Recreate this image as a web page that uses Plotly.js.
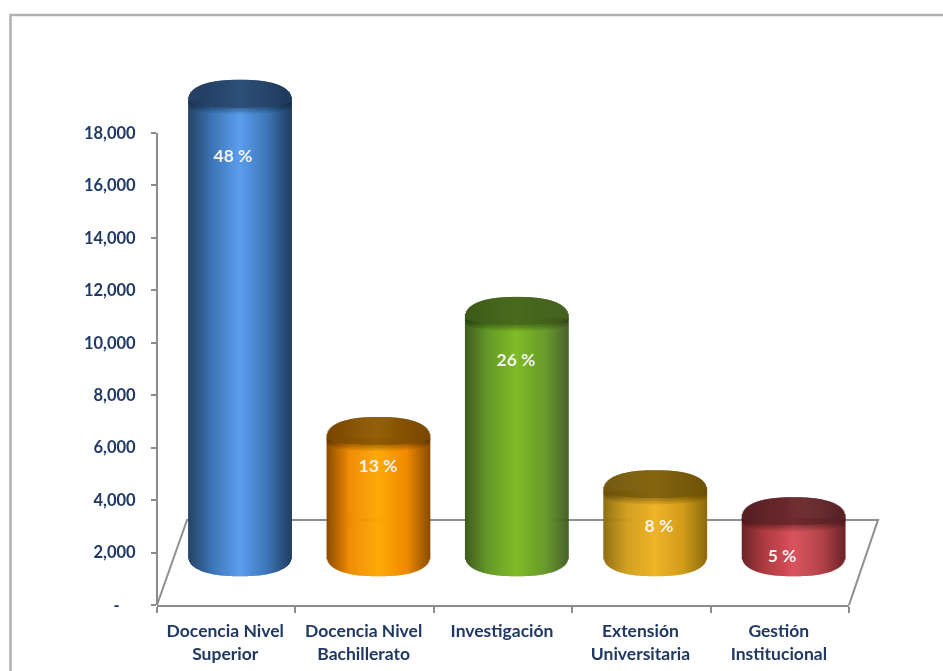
<!DOCTYPE html>
<html><head><meta charset="utf-8">
<script src="https://cdn.plot.ly/plotly-3.0.1.min.js"></script>
<style>html,body{margin:0;padding:0;background:#fff;overflow:hidden}#c{width:943px;height:671px;filter:blur(0.5px)}</style>
</head><body><div id="c"></div>
<script>
const categories = ["Docencia Nivel<br>Superior","Docencia Nivel<br>Bachillerato","Investigación","Extensión<br>Universitaria","Gestión<br>Institucional"];
const categoryPositions = [-0.007, 0.993, 1.993, 2.993, 3.993];
const values = [17600, 4740, 9320, 2710, 1680];
const percentLabels = ["48 %","13 %","26 %","8 %","5 %"];
const labelX = [0.049, 1.097, 2.094, 3.127, 4.016];
const labelY = [17060, 5230, 9275, 2940, 1795];
const colorCenter = ["#5c9eee","#ffa600","#80bc28","#f0b428","#d9505a"];
const colorMid = ["#3c74b4","#f08a00","#669a28","#d09c1a","#b03c42"];
const colorEdge = ["#1f3c60","#8c4e00","#3f5c20","#8c6a0c","#6c2428"];
const capEdge = ["#1e3a5c","#7a4800","#3c5a18","#6e5208","#562024"];
const capCenter = ["#2e5078","#8f5a00","#4a6c1e","#856610","#6e2a2e"];
const yTicks = [0,2000,4000,6000,8000,10000,12000,14000,16000,18000];
const yTickText = ["-\u00a0\u00a0\u00a0\u00a0","2,000","4,000","6,000","8,000","10,000","12,000","14,000","16,000","18,000"];
const xBoundaries = [-0.5,0.5,1.5,2.5,3.5,4.5];
const floorPaperX = [0, 0.0434, 1.0419, 1];
const floorY = [0, 3244, 3244, 0];
const yAxisEnds = [0, 18000];

const depthX = 0.1, depthY = 1630, sideBase = 1897, halfW = 0.373;
const rimUp = 800, rimDown = 260, N = 104, shadeBands = 4, shadeStep = 60;

function rgb(h){return [1,3,5].map(i=>parseInt(h.substr(i,2),16));}
function mix(a,b,f){const A=rgb(a),B=rgb(b);return 'rgb('+A.map((v,i)=>Math.round(v+(B[i]-v)*f)).join(',')+')';}
function sideColor(i,t){const u=Math.abs(t);
  if(u<0.55) return mix(colorCenter[i],colorMid[i],u/0.55);
  return mix(colorMid[i],colorEdge[i],(u-0.55)/0.45);}
function round(t){return Math.pow(1-Math.pow(Math.abs(t),2.4),1/2.4);}
function ellipse(t){return Math.sqrt(1-t*t);}

const traces=[];
values.forEach((v,i)=>{
  const cx=i+depthX, top=v+depthY;
  const xs=[],sB=[],sH=[],sC=[],cB=[],cH=[],cC=[],ls=[];
  for(let k=0;k<N;k++){
    const t=-1+(k+0.5)*2/N, r=round(t), e=ellipse(t);
    xs.push(cx+t*halfW); ls.push(e);
    const b=sideBase-rimUp*r;
    sB.push(b); sH.push(top-b); sC.push(sideColor(i,t));
    cB.push(top-rimDown*e); cH.push(rimUp*r+rimDown*e);
    cC.push(mix(capCenter[i],capEdge[i],Math.abs(t)));
  }
  const w=2*halfW/N*1.6;
  traces.push({type:'bar',x:xs,y:sH,base:sB,width:w,marker:{color:sC,line:{width:0}},cliponaxis:false,hoverinfo:'skip',showlegend:false});
  for(let s=shadeBands;s>=1;s--){
    const bB=ls.map(e=>top-rimDown*e-s*shadeStep);
    const bH=bB.map(b=>top-b);
    traces.push({type:'bar',x:xs,y:bH,base:bB,width:w,marker:{color:'rgba(0,0,0,0.05)',line:{width:0}},cliponaxis:false,hoverinfo:'skip',showlegend:false});
  }
  traces.push({type:'bar',x:xs,y:cH,base:cB,width:w,marker:{color:cC,line:{width:0}},cliponaxis:false,hoverinfo:'skip',showlegend:false});
});
traces.push({type:'scatter',mode:'text',x:labelX,y:labelY,text:percentLabels,textposition:'middle center',
  textfont:{family:'Lato',size:17.5,color:'#f4f4f4',weight:700},cliponaxis:false,hoverinfo:'skip',showlegend:false});

const W=943,H=671,L=157,R=849,T=60,B=605,pxPerUnit=472/18000;
const yTop=(B-T)/pxPerUnit;
const px=p=>(p-L)/(R-L), py=p=>(B-p)/(B-T);
const layout={
  width:W,height:H,margin:{l:L,r:W-R,t:T,b:H-B,pad:0},
  paper_bgcolor:'#fff',plot_bgcolor:'rgba(0,0,0,0)',barmode:'overlay',showlegend:false,
  xaxis:{type:'linear',range:[-0.5,4.5],tickmode:'array',tickvals:categoryPositions,ticktext:categories,ticks:'',
    showgrid:false,zeroline:false,showline:true,linecolor:'#8c8c8c',linewidth:2,
    tickfont:{family:'Lato',size:17.5,color:'#1f3864',weight:700},ticklabelstandoff:9,
    minor:{tickmode:'array',tickvals:xBoundaries,ticks:'outside',ticklen:6,tickwidth:2,tickcolor:'#8c8c8c',showgrid:false}},
  yaxis:{range:[0,yTop],tickmode:'array',tickvals:yTicks,ticktext:yTickText,ticks:'outside',ticklen:5,tickwidth:2,tickcolor:'#8c8c8c',
    showgrid:false,zeroline:false,showline:false,
    tickfont:{family:'Lato',size:16.5,color:'#1f3864',weight:700},ticklabelstandoff:12},
  shapes:[
    {type:'path',layer:'below',xref:'paper',yref:'y',line:{color:'#8f8f8f',width:2},fillcolor:'rgba(0,0,0,0)',
     path:'M'+floorPaperX.map((x,i)=>x+','+floorY[i]).join('L')},
    {type:'line',layer:'below',xref:'paper',yref:'y',x0:0,x1:0,y0:yAxisEnds[0],y1:yAxisEnds[1],line:{color:'#8c8c8c',width:2}},
    {type:'rect',layer:'below',xref:'paper',yref:'paper',x0:px(10.5),x1:px(960),y0:py(15),y1:py(700),line:{color:'#b0b0b0',width:2.5}}
  ]
};
Plotly.newPlot('c',traces,layout,{displayModeBar:false,staticPlot:true});
</script></body></html>
